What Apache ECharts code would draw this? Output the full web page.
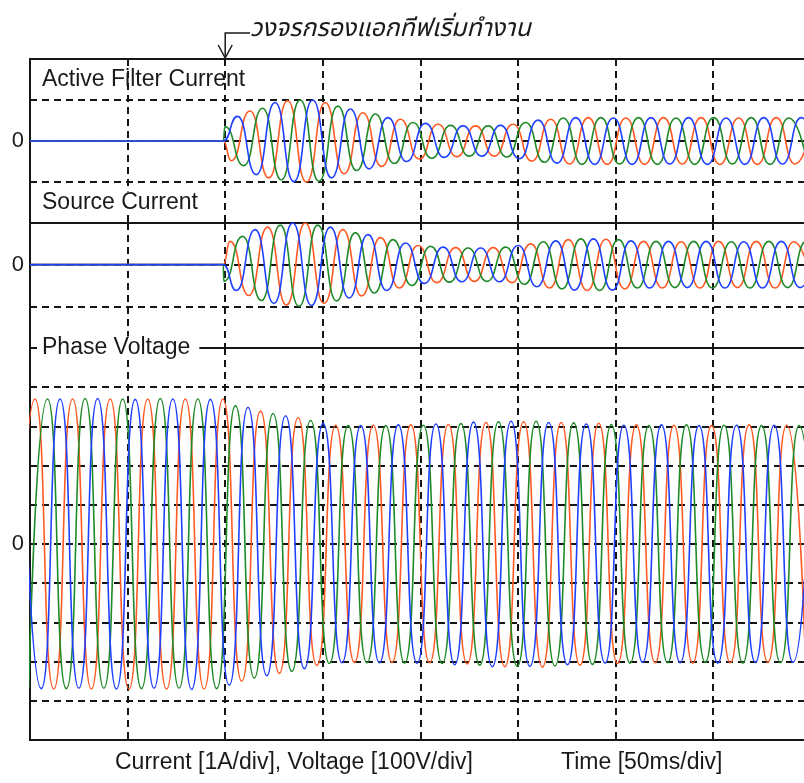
<!DOCTYPE html>
<html><head><meta charset="utf-8">
<script src="https://cdn.jsdelivr.net/npm/echarts/dist/echarts.min.js"></script>
<style>html,body{margin:0;padding:0;background:#fff}#c{width:804px;height:783px}</style>
</head><body><div id="c"></div>
<script>
// ---- sampling of the waveform extrema (ms) ----
const HALF_PERIOD_MS = 9.627;     // half of one mains cycle, read from the peak spacing
const FLAT_END_MS = 99.0;         // currents are zero until the filter starts
const FILTER_START_MS = 100;      // arrow position
const X_MAX_MS = 398.05;
const X_TICK_MS = 50;

// ---- Phase voltage extrema [V] (100 V/div) ----
const voltOrangeStart = -7.07;
const voltOrange = [-370,370,-370,370,-370,370,-370,370,-370,370,-370,370,
  -350,339,-330,322,-310,303,
  -302,303,-302,304,-303,305,-306,310,-313,312,
  -314,310,-309,308,-305,304,-303,303,-304,302,
  -303,304,-302,303,-302];
const voltGreenStart = -0.65;
const voltGreen = [-368,370,-369,371,-368,370,-369,371,-368,370,-369,
  353,-342,333,-325,315,-305,
  302,-303,302,-304,303,-305,307,-309,312,-312,
  313,-311,309,-307,305,-304,302,-303,304,-302,
  303,-304,302,-303,302,-303];
const voltBlueStart = -3.85;
const voltBlue = [371,-369,370,-368,371,-370,369,-368,370,-371,369,
  -360,349,-336,327,-318,307,
  -303,302,-303,304,-304,306,-308,311,-313,313,
  -312,310,-308,306,-304,303,-302,304,-303,302,
  -304,303,-302,303,-302,304];

// ---- Active filter current extrema [A] (1 A/div) ----
const afOrangeStart = 103.1;
const afOrange = [-0.48,0.73,-0.9,0.98,-1.0,0.94,-0.8,0.69,-0.62,0.53,
  -0.44,0.41,-0.38,0.37,-0.37,0.41,-0.49,0.53,-0.56,0.57,
  -0.57,0.56,-0.57,0.57,-0.56,0.57,-0.57,0.56,-0.57,0.57,
  -0.56,0.57];
const afGreenStart = 99.9;
const afGreen = [0.35,-0.6,0.8,-0.95,1.0,-0.98,0.85,-0.72,0.66,-0.55,
  0.45,-0.42,0.38,-0.37,0.37,-0.39,0.45,-0.52,0.56,-0.57,
  0.57,-0.56,0.57,-0.57,0.56,-0.57,0.57,-0.56,0.57,-0.57,
  0.56,-0.57];
const afBlueStart = 106.3;
const afBlue = [0.6,-0.82,0.94,-0.99,1.0,-0.9,0.78,-0.68,0.57,-0.5,
  0.43,-0.4,0.37,-0.37,0.38,-0.43,0.51,-0.54,0.57,-0.57,
  0.56,-0.57,0.57,-0.56,0.57,-0.57,0.56,-0.57,0.57,-0.56,
  0.57,-0.57];

// ---- Source current extrema [A] (1 A/div) ----
const scOrangeStart = 102.5;
const scOrange = [0.56,-0.74,0.9,-0.97,1.0,-0.93,0.84,-0.75,0.65,-0.56,
  0.46,-0.43,0.41,-0.4,0.41,-0.43,0.5,-0.56,0.6,-0.62,
  0.61,-0.58,0.56,-0.56,0.55,-0.56,0.56,-0.55,0.56,-0.56,
  0.55,-0.56];
const scGreenStart = 99.3;
const scGreen = [-0.4,0.68,-0.86,0.95,-1.0,0.95,-0.87,0.77,-0.68,0.6,
  -0.5,0.44,-0.42,0.4,-0.4,0.42,-0.47,0.55,-0.58,0.62,
  -0.62,0.6,-0.56,0.56,-0.55,0.56,-0.56,0.55,-0.56,0.56,
  -0.55,0.56,-0.56];
const scBlueStart = 105.7;
const scBlue = [-0.62,0.84,-0.93,1.0,-0.98,0.9,-0.8,0.72,-0.62,0.52,
  -0.45,0.42,-0.41,0.4,-0.41,0.46,-0.53,0.57,-0.61,0.62,
  -0.61,0.57,-0.56,0.56,-0.55,0.56,-0.56,0.55,-0.56,0.56,
  -0.55,0.56];

// ---- texts ----
const panelTitles = ['Active Filter Current', 'Source Current', 'Phase Voltage'];
const annotationText = 'วงจรกรองแอกทีฟเริ่มทำงาน';
const scaleText = 'Current [1A/div], Voltage [100V/div]';
const timeText = 'Time [50ms/div]';

const COLORS = { orange: '#ff5a23', green: '#1f8a28', blue: '#2040ff' };
const FONT = '"Liberation Sans", Arial, sans-serif';
const INK = '#1a1a1a';

function wave(start, peaks, flatEnd) {
  const pts = flatEnd == null ? [] : [[0, 0], [flatEnd, 0]];
  peaks.forEach((v, i) => pts.push([+(start + i * HALF_PERIOD_MS).toFixed(3), v]));
  return pts;
}

const chart = echarts.init(document.getElementById('c'), null, { renderer: 'canvas' });

const dash = { color: '#151515', width: 2, type: [7, 5] };
const grids = [
  { left: 30, right: -3, top: 59, height: 164 },
  { left: 30, right: -3, top: 223, height: 125 },
  { left: 30, right: -3, top: 348, height: 392 }
].map(g => Object.assign(g, { show: true, borderColor: '#151515', borderWidth: 2, backgroundColor: 'transparent', containLabel: false, outerBoundsMode: 'none' }));

const xAxes = [0, 1, 2].map(i => ({
  type: 'value', gridIndex: i, min: 0, max: X_MAX_MS, interval: X_TICK_MS,
  axisLine: { show: false }, axisTick: { show: false }, axisLabel: { show: false },
  splitLine: { show: true, showMinLine: false, showMaxLine: false, lineStyle: dash }
}));
const yRanges = [[-2, 2, 1], [-2, 1, 1], [-500, 500, 100]];
const yAxes = yRanges.map((r, i) => ({
  type: 'value', gridIndex: i, min: r[0], max: r[1], interval: r[2],
  axisLine: { show: false }, axisTick: { show: false },
  axisLabel: { show: true, margin: 6, fontFamily: FONT, fontSize: 22, color: INK,
    formatter: v => (v === 0 ? '0' : '') },
  splitLine: { show: true, showMinLine: false, showMaxLine: false, lineStyle: dash }
}));

function line(name, idx, data, color, smooth) {
  return { name, type: 'line', xAxisIndex: idx, yAxisIndex: idx, data,
    showSymbol: false, symbol: 'none', smooth, smoothMonotone: 'x',
    lineStyle: { color, width: 1.6 }, itemStyle: { color }, clip: true, animation: false, z: 3 };
}

const series = [
  line('AF a', 0, wave(afOrangeStart, afOrange, FLAT_END_MS), COLORS.orange, 0.55),
  line('AF b', 0, wave(afGreenStart, afGreen, FLAT_END_MS), COLORS.green, 0.55),
  line('AF c', 0, wave(afBlueStart, afBlue, FLAT_END_MS), COLORS.blue, 0.55),
  line('SC a', 1, wave(scOrangeStart, scOrange, FLAT_END_MS), COLORS.orange, 0.55),
  line('SC b', 1, wave(scGreenStart, scGreen, FLAT_END_MS), COLORS.green, 0.55),
  line('SC c', 1, wave(scBlueStart, scBlue, FLAT_END_MS), COLORS.blue, 0.55),
  line('V a', 2, wave(voltOrangeStart, voltOrange), COLORS.orange, 0.62),
  line('V b', 2, wave(voltGreenStart, voltGreen), COLORS.green, 0.62),
  line('V c', 2, wave(voltBlueStart, voltBlue), COLORS.blue, 0.62)
];

chart.setOption({
  backgroundColor: '#fff', animation: false,
  grid: grids, xAxis: xAxes, yAxis: yAxes, series
});

const ax = chart.convertToPixel({ xAxisIndex: 0 }, FILTER_START_MS);
const textStyle = (t) => ({ text: t, font: '23px ' + FONT, fill: INK, verticalAlign: 'middle', align: 'left' });
chart.setOption({
  graphic: [
    { type: 'text', x: 42, y: 80, z: 100, style: textStyle(panelTitles[0]) },
    { type: 'text', x: 42, y: 203, z: 100, style: Object.assign(textStyle(panelTitles[1]), { backgroundColor: '#fff' }) },
    { type: 'text', x: 37, y: 348, z: 100, style: Object.assign(textStyle(panelTitles[2]), { backgroundColor: '#fff', padding: [0, 9, 0, 5] }) },
    { type: 'text', x: 115, y: 763, z: 100, style: textStyle(scaleText) },
    { type: 'text', x: 561, y: 763, z: 100, style: textStyle(timeText) },
    { type: 'text', x: 250, y: 31, z: 100, style: { text: annotationText, font: 'italic 25px "Noto Sans Thai", "Loma", "Garuda", "Norasi", "DejaVu Sans", sans-serif', fill: INK, verticalAlign: 'middle', align: 'left' } },
    { type: 'polyline', z: 100, shape: { points: [[250, 33], [ax, 33], [ax, 58]] }, style: { stroke: INK, lineWidth: 1.5, fill: null } },
    { type: 'polyline', z: 100, shape: { points: [[ax - 7, 45], [ax, 58], [ax + 7, 45]] }, style: { stroke: INK, lineWidth: 1.5, fill: null } }
  ]
});
</script></body></html>
